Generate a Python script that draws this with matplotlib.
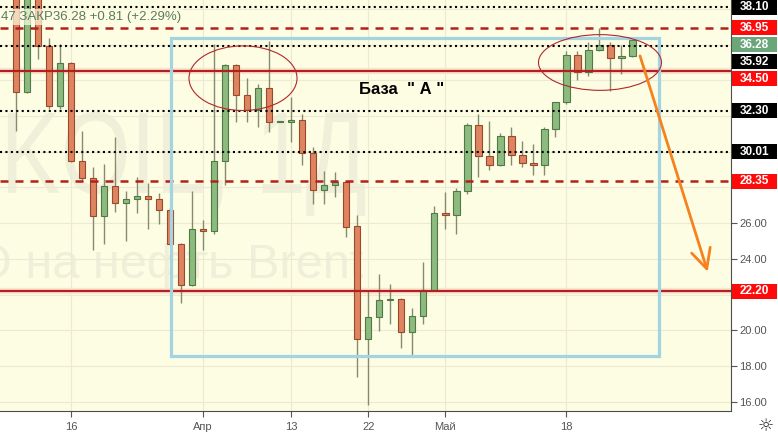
import numpy as np
import matplotlib
matplotlib.use('Agg')
from matplotlib import pyplot as plt
from matplotlib.patches import Rectangle, Ellipse, PathPatch
from matplotlib.textpath import TextPath
from matplotlib.font_manager import FontProperties
from matplotlib.transforms import Affine2D

plt.rcParams['font.family'] = ['Liberation Sans', 'DejaVu Sans']

# daily candles, index 0 = 16 March
idx = list(range(-5, 52))
opens = [39.0, 33.36, 38.7, 35.93, 32.56, 34.98, 29.49, 28.54, 26.41, 28.09,
         27.14, 27.36, 27.55, 27.36, 26.75, 24.85, 22.56, 25.69, 25.55, 29.5,
         34.85, 33.19, 32.34, 33.56, 31.68, 31.64, 31.79, 29.93, 27.87, 28.15,
         28.29, 25.82, 19.54, 20.72, 21.68, 21.78, 19.91, 20.79, 22.28, 26.58,
         26.45, 27.83, 31.5, 29.74, 29.26, 30.88, 29.82, 29.35, 29.24, 31.27,
         32.8, 35.41, 34.44, 35.69, 35.98, 35.24, 35.37]
highs = [39.5, 39.2, 39.0, 36.39, 36.02, 35.0, 31.18, 29.13, 29.32, 30.84,
         27.8, 28.57, 28.23, 27.68, 26.9, 24.9, 27.83, 26.19, 36.02, 34.9,
         34.9, 34.12, 33.79, 36.21, 31.7, 33.08, 32.11, 30.25, 28.94, 28.85,
         28.3, 26.43, 22.28, 23.13, 22.58, 21.8, 21.25, 23.82, 26.95, 27.77,
         27.98, 31.61, 32.11, 31.74, 31.07, 31.36, 30.62, 30.44, 31.4, 32.8,
         35.65, 35.65, 36.17, 36.92, 36.17, 35.98, 36.35]
lows = [31.18, 33.3, 35.22, 32.39, 32.39, 29.4, 28.39, 24.47, 24.85, 26.65,
        24.98, 26.56, 25.69, 25.97, 24.8, 21.53, 22.5, 24.47, 25.4, 28.15,
        31.64, 31.64, 31.4, 31.08, 31.66, 30.53, 29.26, 27.08, 27.08, 27.45,
        25.22, 17.4, 15.8, 19.95, 20.34, 19.02, 18.61, 20.34, 22.2, 25.69,
        25.41, 27.64, 28.57, 28.98, 29.2, 29.26, 29.13, 28.72, 28.72, 30.8,
        32.7, 34.03, 34.25, 35.65, 33.41, 34.35, 35.3]
closes = [33.36, 38.8, 35.93, 32.56, 34.98, 29.46, 28.54, 26.41, 28.09, 27.14,
          27.36, 27.55, 27.36, 26.75, 24.85, 22.56, 25.69, 25.55, 29.5, 34.85,
          33.19, 32.34, 33.56, 31.68, 31.68, 31.79, 29.93, 27.87, 28.15, 28.29,
          25.78, 19.54, 20.72, 21.68, 21.78, 19.91, 20.79, 22.28, 26.58, 26.45,
          27.83, 31.5, 29.74, 29.26, 30.88, 29.82, 29.35, 29.24, 31.27, 32.8,
          35.41, 34.44, 35.69, 35.98, 35.24, 35.37, 36.28]

xtick_pos = [0, 12, 20, 27, 34, 45]
xtick_labels = ['16', 'Апр', '13', '22', 'Май', '18']

dotted_levels = [38.10, 35.92, 32.30, 30.01]
dashed_levels = [36.95, 28.35]
solid_levels = [34.50, 22.20]
last_price = 36.28

# drawings on the chart (data units)
box_x = (9.04, 53.45)
box_y = (18.56, 36.36)
ellipses = [(15.61, 34.12, 9.82, 3.62), (48.06, 35.0, 11.18, 3.12)]
arrow_from = (51.7, 35.37)
arrow_to = (57.85, 23.28)

BG = '#fdfde3'
UP_FILL, UP_EDGE = '#8dbb7f', '#4f7a48'
DN_FILL, DN_EDGE = '#df8460', '#9a4a2c'
WICK = '#878b6d'
LINE_RED = '#b3201c'
WATERMARK = '#efefda'

fig = plt.figure(figsize=(7.78, 4.38), dpi=100)
ax = fig.add_axes([0, 27 / 438, 731 / 778, 411 / 438])
ax.set_facecolor(BG)
ylim = (15.48, 38.50)
ax.set_xlim(-6.48, 59.97)
ax.set_ylim(*ylim)

# watermark (symbol drawn as a condensed text path)
tp = TextPath((0, 0), 'KOIL, 1Д', size=1,
              prop=FontProperties(family='Liberation Sans'))
sx, sy = 90 / 11, 116 / 17.85
ext = tp.get_extents()
wm_tr = Affine2D().scale(sx, sy).translate(26.7 - ext.x1 * sx, 27.7) + ax.transData
ax.add_patch(PathPatch(tp, transform=wm_tr, fc=WATERMARK, ec='none', zorder=0.5))
ax.text(26.5, 22.95, 'О на нефть Brent', fontsize=35, color=WATERMARK,
        ha='right', va='baseline', zorder=0.5)

# candles
o = np.array(opens)
c = np.array(closes)
up = c >= o
x = np.array(idx)
ax.vlines(x, lows, highs, color=WICK, lw=1, zorder=3)
bot = np.minimum(o, c)
hgt = np.maximum(np.abs(c - o), 0.06)
ax.bar(x[up], hgt[up], bottom=bot[up], width=0.58, color=UP_FILL,
       edgecolor=UP_EDGE, lw=0.8, zorder=4)
ax.bar(x[~up], hgt[~up], bottom=bot[~up], width=0.58, color=DN_FILL,
       edgecolor=DN_EDGE, lw=0.8, zorder=4)

# levels
for v in dotted_levels:
    ax.axhline(v, color='black', lw=1.5, linestyle=(0, (1, 1.6)), zorder=5)
for v in dashed_levels:
    ax.axhline(v, color=LINE_RED, lw=1.8, linestyle=(0, (3.2, 2.8)), zorder=5)
for v in solid_levels:
    ax.axhline(v, color='#f9e3d2', lw=4.5, zorder=2)
    ax.axhline(v, color=LINE_RED, lw=1.6, zorder=5)

# drawings
ax.add_patch(Rectangle((box_x[0], box_y[0]), box_x[1] - box_x[0],
                       box_y[1] - box_y[0], fill=False, ec='#a2d4e2',
                       lw=2.3, zorder=6))
for ex, ey, ew, eh in ellipses:
    ax.add_patch(Ellipse((ex, ey), ew, eh, fill=False, ec='#b3262a',
                         lw=0.8, zorder=6))
ax.annotate('', xy=arrow_to, xytext=arrow_from, zorder=6,
            arrowprops=dict(arrowstyle='->,head_length=1.0,head_width=0.5',
                            color='#f5821f', lw=2, mutation_scale=14,
                            shrinkA=0, shrinkB=0))
ax.text(30.06, 33.46, 'База  " А "', fontsize=12, fontweight='bold',
        color='black', ha='center', va='center', zorder=7)

# axes
ax.grid(True, color='#ebead2', lw=0.8, zorder=1)
ax.set_axisbelow(True)
for s in ['top', 'left']:
    ax.spines[s].set_visible(False)
for s in ['bottom', 'right']:
    ax.spines[s].set_color('#4d4d4d')
ax.set_xticks(xtick_pos)
ax.set_xticklabels(xtick_labels)
ax.yaxis.tick_right()
yt = np.arange(16, 39, 2)
all_labels = dotted_levels + dashed_levels + solid_levels + [last_price]
ax.set_yticks(yt)
ax.set_yticklabels([f'{t:.2f}' if min(abs(t - v) for v in all_labels) > 0.9
                    else '' for t in yt])
ax.tick_params(axis='both', colors='#555555', labelsize=8, length=4)
ax.tick_params(axis='x', pad=4)
ax.tick_params(axis='y', pad=2)

# price labels on the scale
ax2 = fig.add_axes([731 / 778, 27 / 438, 47 / 778, 411 / 438])
ax2.set_xlim(0, 1)
ax2.set_ylim(*ylim)
ax2.axis('off')
ax2.set_zorder(3)
gap = 17 / 17.85
half = 7.5 / 17.85
prev = 1e9
for v in sorted(all_labels, reverse=True):
    if v == last_price:
        col = '#6ba57a'
    elif v in dotted_levels:
        col = 'black'
    else:
        col = '#ff0a0a'
    y = min(v, prev - gap)
    prev = y
    ax2.add_patch(Rectangle((0.02, y - half), 0.96, 2 * half, fc=col,
                            ec='none', clip_on=False))
    ax2.text(0.5, y, f'{v:.2f}', color='white', fontsize=8.5,
             fontweight='bold', ha='center', va='center', clip_on=False)

fig.text(1 / 778, 1 - 17 / 438, '47 ЗАКР36.28 +0.81 (+2.29%)', fontsize=9.5,
         color='#5d7a5f', ha='left', va='center',
         bbox=dict(fc=BG, ec='none', alpha=0.7, pad=1.5))
fig.text(766 / 778, 1 - 426 / 438, '☼', fontsize=13, color='#333333',
         ha='center', va='center', family='DejaVu Sans')

fig.savefig('out.png', dpi=100, facecolor='white')
